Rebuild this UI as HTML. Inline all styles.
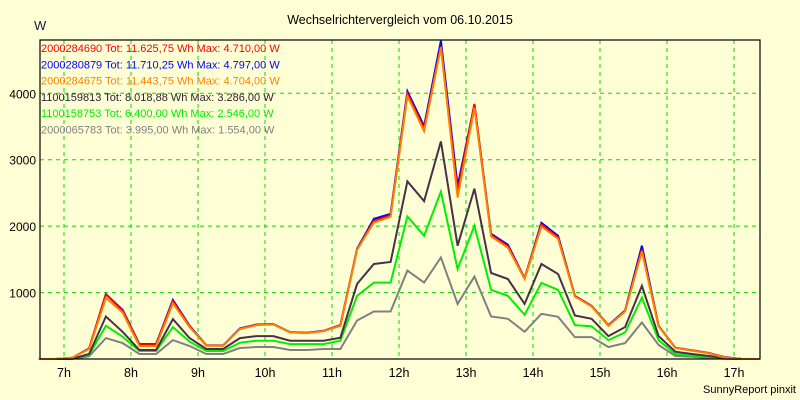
<!DOCTYPE html>
<html><head><meta charset="utf-8"><style>
html,body{margin:0;padding:0;background:#ffffd6;}
svg{display:block;font-family:"Liberation Sans",Arial,sans-serif;}
</style></head><body>
<svg id="chart" width="800" height="400" viewBox="0 0 800 400" xmlns="http://www.w3.org/2000/svg">
<rect x="0" y="0" width="800" height="400" fill="#ffffd6"/>
<text x="400" y="24" text-anchor="middle" font-size="12.5" fill="#000">Wechselrichtervergleich vom 06.10.2015</text>
<text x="34" y="30" font-size="13" fill="#1a1a40">W</text>
<g id="grid"></g>
<g id="yticks"></g>
<g id="xticks"></g>
<g id="series"></g>
<rect x="40" y="40" width="720" height="319" fill="none" stroke="#000" stroke-width="1.2"/>
<g id="legend"></g>
<text x="796" y="393" text-anchor="end" font-size="11" fill="#000">SunnyReport pinxit</text>
</svg>
<script>
const hourLabels = ["7h","8h","9h","10h","11h","12h","13h","14h","15h","16h","17h"];
const yTicks = [1000,2000,3000,4000];
const startHour = 6.625;
const stepHours = 0.25;
const blue   = [0,0,20,160,975,740,225,225,890,500,205,205,460,520,525,405,395,425,510,1660,2110,2185,4030,3505,4790,2600,3830,1885,1720,1215,2050,1855,950,800,510,730,1705,500,170,130,90,25,0,0];
const red    = [0,0,20,155,975,730,215,215,870,490,202,202,455,515,522,402,392,422,505,1650,2080,2160,3995,3470,4710,2520,3840,1865,1700,1210,2025,1830,945,795,505,720,1650,495,168,128,88,22,0,0];
const orange = [0,0,20,150,920,700,195,195,840,480,200,200,450,510,520,400,390,420,500,1645,2055,2140,3960,3430,4690,2430,3785,1845,1675,1205,1995,1810,940,790,500,715,1620,490,165,125,85,20,0,0];
const dark   = [0,0,5,75,640,410,135,135,600,315,150,150,315,345,345,275,275,275,320,1130,1430,1460,2675,2375,3275,1705,2565,1295,1205,830,1430,1280,655,605,345,480,1100,345,110,75,45,10,0,0];
const green  = [0,0,3,60,500,335,120,120,480,260,120,120,245,275,275,225,225,225,275,950,1150,1150,2145,1855,2520,1355,2005,1040,950,665,1145,1040,510,490,285,400,925,285,75,50,35,5,0,0];
const gray   = [0,0,2,40,315,240,75,75,285,195,75,75,165,180,180,135,135,150,150,580,715,715,1330,1150,1530,830,1240,640,605,410,680,635,330,330,180,240,550,210,45,35,15,3,0,0];
const legendTexts = ["2000284690 Tot: 11.625,75 Wh Max: 4.710,00 W","2000280879 Tot: 11.710,25 Wh Max: 4.797,00 W","2000284675 Tot: 11.443,75 Wh Max: 4.704,00 W","1100159813 Tot: 8.018,88 Wh Max: 3.286,00 W","1100158753 Tot: 6.400,00 Wh Max: 2.546,00 W","2000065783 Tot: 3.995,00 Wh Max: 1.554,00 W"];

const NS="http://www.w3.org/2000/svg";
function xOf(h){return 64+(h-7)*67.0;}
function yOf(v){return 359-v*0.06643;}
function mk(tag,attrs,parent){const e=document.createElementNS(NS,tag);for(const k in attrs)e.setAttribute(k,attrs[k]);parent.appendChild(e);return e;}

const grid=document.getElementById('grid'), yt=document.getElementById('yticks'), xt=document.getElementById('xticks');
yTicks.forEach(v=>{
  const l=mk('line',{x1:40,x2:760,y1:yOf(v),y2:yOf(v),stroke:'#00dd00','stroke-width':1,'stroke-dasharray':'4,4'},grid);
  
  
  const t=mk('text',{x:36,y:yOf(v)+5,'text-anchor':'end','font-size':12,fill:'#000'},yt);
  t.textContent=v;
  
  
});
hourLabels.forEach((lab,i)=>{
  const x=xOf(7+i);
  const l=mk('line',{x1:x,x2:x,y1:40,y2:359,stroke:'#00dd00','stroke-width':1,'stroke-dasharray':'4,4'},grid);
  
  
  const t=mk('text',{x:x,y:377,'text-anchor':'middle','font-size':12.5,fill:'#000'},xt);
  t.textContent=lab;
  
  
});

const sg=document.getElementById('series');
const seriesList=[[gray,'#808080','series-2000065783'],[green,'#00ee00','series-1100158753'],[dark,'#483048','series-1100159813'],[blue,'#0000ff','series-2000280879'],[red,'#ff0000','series-2000284690'],[orange,'#ff8000','series-2000284675']];
seriesList.forEach(([arr,col,name])=>{
  const pts=arr.map((v,i)=>xOf(startHour+i*stepHours).toFixed(1)+','+yOf(v).toFixed(1)).join(' ');
  const p=mk('polyline',{points:pts,fill:'none',stroke:col,'stroke-width':2,'stroke-linejoin':'miter'},sg);
  
  
});

const lg=document.getElementById('legend');
const legendColors=['#ff0000','#0000ff','#ff8000','#302030','#00ee00','#808080'];
legendTexts.forEach((s,i)=>{
  const t=mk('text',{x:41,y:52+i*16.3,'font-size':11,fill:legendColors[i]},lg);
  t.textContent=s;
  
  
});
</script>
</body></html>
